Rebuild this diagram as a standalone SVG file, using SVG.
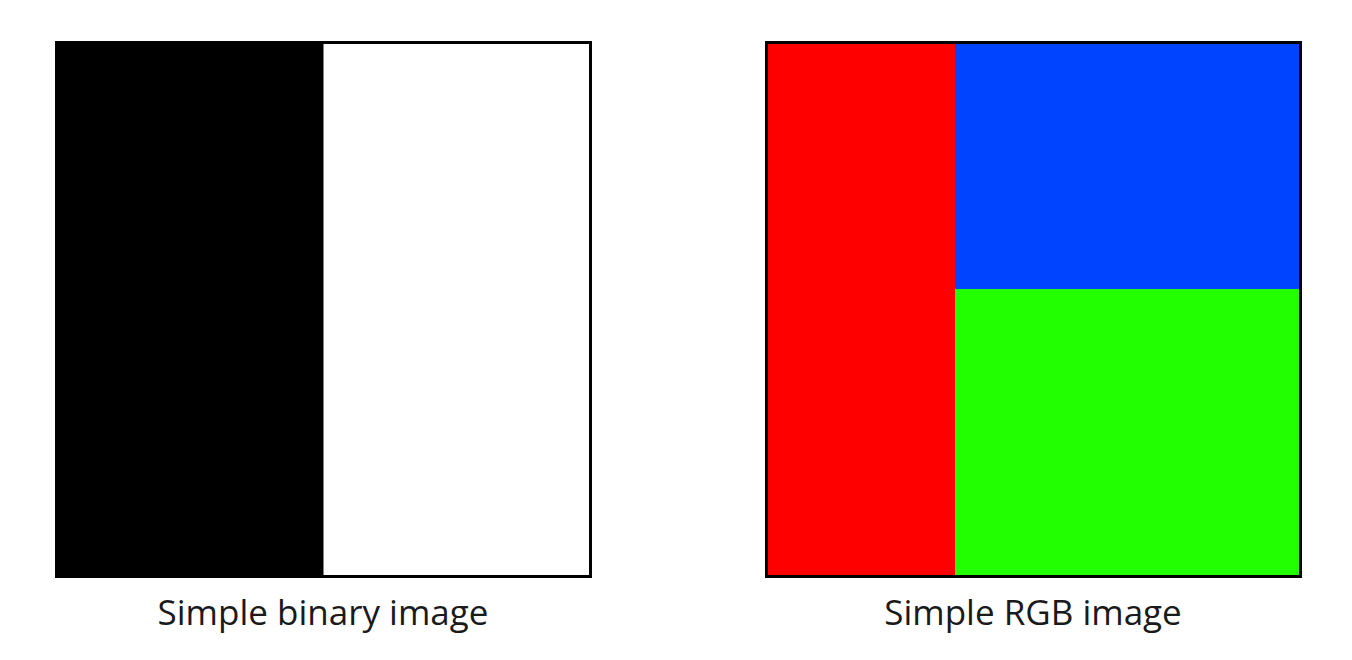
<svg xmlns="http://www.w3.org/2000/svg" width="1352" height="660" viewBox="0 0 1352 660">
<style>
.frame{fill:none;stroke:#000;stroke-width:3}
.lbl{font-family:"Open Sans",sans-serif;font-size:35px;fill:#1a1a1a;text-anchor:middle}
</style>
<rect width="1352" height="660" fill="#fff"/>
<g id="binary">
<rect x="56.5" y="42.5" width="534" height="534" fill="#fff"/>
<rect x="56.5" y="42.5" width="267" height="534" fill="#000"/>
<rect class="frame" x="56.5" y="42.5" width="534" height="534"/>
<text class="lbl" x="323" y="625">Simple binary image</text>
</g>
<g id="rgb">
<rect x="766.5" y="42.5" width="188.5" height="534" fill="#ff0000"/>
<rect x="955" y="42.5" width="345" height="246.5" fill="#0044ff"/>
<rect x="955" y="289" width="345" height="287.5" fill="#22ff00"/>
<rect class="frame" x="766.5" y="42.5" width="534" height="534"/>
<text class="lbl" x="1033" y="625">Simple RGB image</text>
</g>
</svg>
